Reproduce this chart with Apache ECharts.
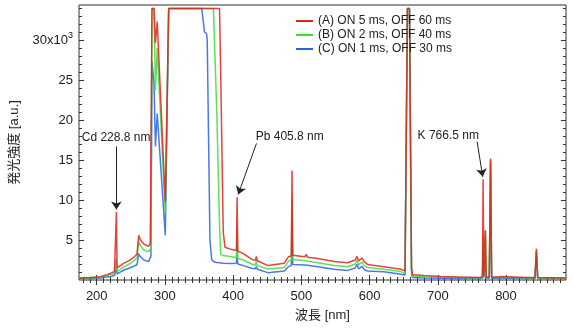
<!DOCTYPE html>
<html>
<head>
<meta charset="utf-8">
<title>発光スペクトル</title>
<script src="https://cdn.jsdelivr.net/npm/echarts@6/dist/echarts.min.js"></script>
<style>
html,body{margin:0;padding:0;background:#fff;}
#main{width:573px;height:331px;}
</style>
</head>
<body>
<div id="main"></div>
<script>
// wavelength [nm] shared by the three spectra
var wavelength = [175, 190, 205, 215, 222, 226, 227.8, 228.8, 229.8, 233, 240, 248, 255, 259, 261.5, 264, 269, 276, 278.5, 279.5,
	281, 284, 286, 288.7, 300.5, 305.5, 354, 358, 361, 362, 366, 368.5, 371, 372.5, 376, 380, 381.7, 385.5, 388, 398,
	404.8, 405.8, 406.8, 415, 427, 432.5, 434, 435.5, 451, 475, 481, 485.3, 486.3, 487.3, 490, 505, 507, 509, 524, 548,
	568, 579, 581.5, 584, 589, 592, 597, 621, 646, 652, 654.6, 655.5, 658.5, 661.5, 663, 680, 704, 730, 762, 765.5,
	766.5, 767.5, 769, 769.9, 771, 775.5, 777.4, 779, 795, 811, 830, 842.5, 844.6, 846.5, 888];
var SAT = 33950;
// (A) ON 5 ms, OFF 60 ms
var seriesA = [250, 300, 400, 650, 900, 1050, 1200, 8500, 1500, 1700, 2100, 2450, 2900, 3200, 5600, 5000, 4500, 4200, 4600, 4700,
	SAT, SAT, 29600, 32300, 9800, SAT, SAT, SAT, SAT, SAT, SAT, SAT, SAT, SAT, SAT, SAT, 26000, 6000, 4100, 3800,
	3700, 10350, 3600, 3300, 2600, 2450, 2950, 2400, 1800, 2100, 2900, 3000, 13700, 3100, 3100, 2900, 3200, 2850, 2700, 2300,
	2150, 2500, 2950, 2400, 2750, 2300, 1950, 1650, 1330, 1150, 1300, SAT, SAT, 1500, 650, 550, 430, 380, 320, 400,
	12600, 500, 600, 6200, 400, 350, 15200, 350, 450, 380, 300, 300, 3900, 300, 250];
// (B) ON 2 ms, OFF 40 ms
var seriesB = [220, 250, 330, 520, 700, 820, 900, 2700, 1050, 1250, 1650, 2000, 2450, 2750, 4800, 4300, 3750, 3550, 3800, 4000,
	SAT, SAT, 23750, 29000, 8300, SAT, SAT, SAT, SAT, SAT, SAT, SAT, SAT, SAT, 21000, 7000, 3200, 3050, 3000, 2900,
	2800, 6700, 2700, 2500, 2000, 1850, 2450, 1800, 1380, 1550, 2350, 2450, 10000, 2550, 2550, 2450, 2600, 2350, 2170, 1800,
	1650, 2000, 2500, 1900, 2250, 1800, 1550, 1330, 1050, 850, 1000, SAT, SAT, 1200, 500, 420, 350, 300, 260, 300,
	5500, 400, 500, 6200, 350, 300, 15000, 300, 350, 300, 250, 250, 3700, 250, 220];
// (C) ON 1 ms, OFF 30 ms
var seriesC = [180, 200, 260, 380, 480, 560, 620, 1500, 750, 920, 1250, 1500, 1750, 1900, 3300, 2900, 2500, 2300, 2500, 3000,
	27300, 24500, 16700, 20800, 5600, SAT, SAT, 31000, 30800, 30000, 5000, 2600, 2300, 2250, 2200, 2150, 2100, 2080, 2080, 2050,
	2100, 3330, 2000, 1800, 1460, 1400, 1670, 1350, 920, 1125, 1670, 1800, 7900, 1950, 1960, 1875, 1950, 1850, 1670, 1330,
	1200, 1500, 1960, 1400, 1700, 1300, 1125, 1040, 710, 625, 800, SAT, SAT, 900, 300, 260, 210, 200, 200, 250,
	3800, 300, 350, 3000, 250, 220, 14800, 220, 260, 230, 200, 200, 3500, 200, 180];

var seriesNames = ['(A) ON 5 ms, OFF 60 ms', '(B) ON 2 ms, OFF 40 ms', '(C) ON 1 ms, OFF 30 ms'];
var xMajor = [200, 300, 400, 500, 600, 700, 800];
var yMajor = [5000, 10000, 15000, 20000, 25000, 30000];

// annotation: text position and arrow (data coords)
var annoText = ['Cd 228.8 nm', 'Pb 405.8 nm', 'K 766.5 nm'];
var annoAt = [[228.4, 17750], [483, 17900], [715.4, 18040]];
var arrowFrom = [[228.8, 16700], [434.2, 17080], [757.7, 17290]];
var arrowTo = [[228.8, 8800], [407.5, 10700], [765.9, 12900]];

var xMinor = [], yMinor = [];
for (var v = 180; v <= 880; v += 10) xMinor.push(v);
for (var w = 1000; w <= 34000; w += 1000) yMinor.push(w);

var FONT = "'Liberation Sans', 'Noto Sans CJK JP', sans-serif";
var AXC = '#333';

var zip = function(ys){
	var out = [];
	for (var i = 0; i < ys.length; i++) out.push([wavelength[i], ys[i]]);
	return out;
};

var xAx = function(pos, ticks, len, labels){
	return {
		type: 'value', min: 174, max: 888, position: pos,
		axisLine: {show: false}, splitLine: {show: false},
		axisTick: {show: true, inside: true, length: len, customValues: ticks, lineStyle: {color: AXC, width: 1}},
		axisLabel: labels ? {customValues: xMajor, margin: 10, fontSize: 13, color: '#222', fontFamily: FONT} : {show: false}
	};
};
var yAx = function(pos, ticks, len, labels){
	return {
		type: 'value', min: 0, max: 34375, position: pos,
		axisLine: {show: false}, splitLine: {show: false},
		axisTick: {show: true, inside: true, length: len, customValues: ticks, lineStyle: {color: AXC, width: 1}},
		axisLabel: labels ? {
			customValues: yMajor, margin: 6, fontSize: 13, color: '#222', fontFamily: FONT,
			formatter: function(val){ return val === 30000 ? '30x10{s|3}' : String(val / 1000); },
			rich: {s: {fontSize: 9, color: '#222', fontFamily: FONT, padding: [0, 0, 9, 0]}}
		} : {show: false}
	};
};

var xAxes = [xAx('bottom', xMajor, 5, true), xAx('bottom', xMinor, 3, false), xAx('top', xMajor, 5, false), xAx('top', xMinor, 3, false)];
xAxes[0].name = '波長 [nm]';
xAxes[0].nameLocation = 'middle';
xAxes[0].nameGap = 29;
xAxes[0].nameTextStyle = {fontSize: 13, color: '#222', fontFamily: FONT};
var yAxes = [yAx('left', yMajor, 5, true), yAx('left', yMinor, 3, false), yAx('right', yMajor, 5, false), yAx('right', yMinor, 3, false)];
yAxes[0].name = '発光強度 [a.u.]';
yAxes[0].nameLocation = 'middle';
yAxes[0].nameGap = 58;
yAxes[0].nameTextStyle = {fontSize: 13, color: '#222', fontFamily: FONT};

var lineSeries = function(name, ys, color){
	return {
		name: name, type: 'line', data: zip(ys), symbol: 'none', showSymbol: false,
		lineStyle: {color: color, width: 1.5, opacity: 0.85}, itemStyle: {color: color},
		emphasis: {disabled: true}, silent: true
	};
};

var sA = lineSeries(seriesNames[0], seriesA, '#e3211c');
sA.markPoint = {
	symbol: 'circle', symbolSize: 0, silent: true,
	label: {show: true, position: 'inside', formatter: '{b}', color: '#222', fontSize: 12, fontFamily: FONT},
	data: annoText.map(function(t, i){ return {name: t, coord: annoAt[i]}; })
};
sA.markLine = {
	silent: true, symbol: ['none', 'arrow'], symbolSize: 8,
	label: {show: false},
	itemStyle: {color: '#222'},
	lineStyle: {color: '#222', width: 1, type: 'solid', opacity: 1},
	data: arrowFrom.map(function(p, i){ return [{coord: p}, {coord: arrowTo[i]}]; })
};

var myChart = echarts.init(document.getElementById('main'), null, {renderer: 'canvas'});
var option = {
	animation: false,
	backgroundColor: '#fff',
	textStyle: {fontFamily: FONT},
	grid: {left: 77, right: 7, top: 5, bottom: 51, show: true, borderColor: AXC, borderWidth: 1, backgroundColor: 'transparent'},
	legend: {
		data: seriesNames, orient: 'vertical', left: 296, top: 15, padding: 0,
		icon: 'rect', itemWidth: 17, itemHeight: 2, itemGap: 2, selectedMode: false,
		textStyle: {fontSize: 12, color: '#222', fontFamily: FONT}
	},
	xAxis: xAxes,
	yAxis: yAxes,
	series: [
		lineSeries(seriesNames[2], seriesC, '#2c5fe8'),
		lineSeries(seriesNames[1], seriesB, '#3fdc3a'),
		sA
	]
};
myChart.setOption(option);
window.onresize = function(){ myChart.resize(); };
</script>
</body>
</html>
